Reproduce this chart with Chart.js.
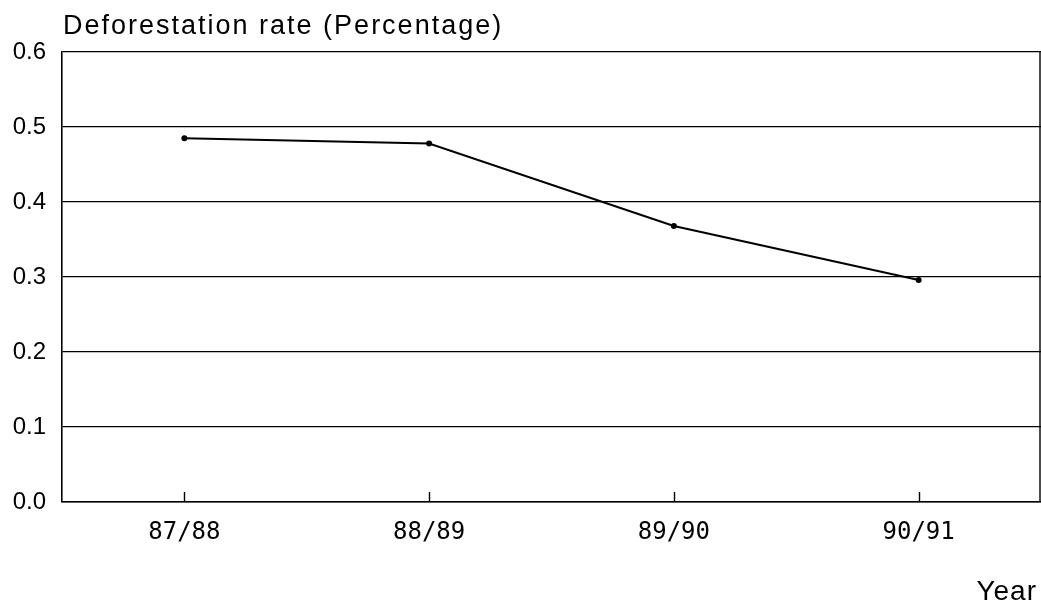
<!DOCTYPE html>
<html>
<head>
<meta charset="utf-8">
<script src="https://cdn.jsdelivr.net/npm/chart.js@4.4.0/dist/chart.umd.min.js"></script>
<style>
  html, body { margin: 0; padding: 0; background: #fff; overflow: hidden; }
  #wrap { width: 1041px; height: 605px; position: relative; }
  canvas { display: block; }
</style>
</head>
<body>
<div id="wrap"><canvas id="myChart" width="1041" height="605"></canvas></div>
<script>
// data
const years = ['87/88', '88/89', '89/90', '90/91'];
const deforestationRate = [0.485, 0.478, 0.368, 0.296];
const yTicks = [0.0, 0.1, 0.2, 0.3, 0.4, 0.5, 0.6];

const titleText = 'Deforestation rate (Percentage)';
const xTitleText = 'Year';

// title, x-axis name, inward tick marks and right border
const extras = {
    id: 'extras',
    afterDraw(chart) {
        const ctx = chart.ctx;
        const area = chart.chartArea;
        const x = chart.scales.x;
        ctx.save();
        ctx.strokeStyle = '#000';
        ctx.lineWidth = 1.4;
        ctx.beginPath();
        for (let i = 0; i < years.length; i++) {
            const px = Math.round(x.getPixelForTick(i)) + 0.5;
            ctx.moveTo(px, area.bottom);
            ctx.lineTo(px, area.bottom - 10);
        }
        ctx.moveTo(area.right - 1, area.top);
        ctx.lineTo(area.right - 1, area.bottom);
        ctx.stroke();

        ctx.fillStyle = '#000';
        ctx.textBaseline = 'alphabetic';
        ctx.font = '27px "Liberation Sans", Arial, sans-serif';
        ctx.letterSpacing = '2px';
        ctx.textAlign = 'left';
        ctx.fillText(titleText, 63, 34);
        ctx.font = '28px "Liberation Sans", Arial, sans-serif';
        ctx.letterSpacing = '1px';
        ctx.textAlign = 'right';
        ctx.fillText(xTitleText, 1037, 600);
        ctx.restore();
    }
};

var ctx = document.getElementById('myChart').getContext('2d');
var chart = new Chart(ctx, {
    type: 'line',
    data: {
        labels: years,
        datasets: [{
            label: 'Deforestation rate',
            data: deforestationRate,
            borderColor: '#000',
            backgroundColor: '#000',
            borderWidth: 2,
            pointRadius: 2,
            pointHoverRadius: 2,
            tension: 0
        }]
    },
    options: {
        responsive: false,
        animation: false,
        layout: { autoPadding: false, padding: { top: 52, right: 0, left: 0, bottom: 0 } },
        plugins: {
            legend: { display: false },
            title: { display: false },
            tooltip: { enabled: false }
        },
        scales: {
            x: {
                offset: true,
                grid: { display: false, drawTicks: false },
                border: { display: true, color: '#000', width: 1.6 },
                ticks: {
                    color: '#000',
                    padding: 16,
                    font: { family: '"DejaVu Sans Mono", monospace', size: 24 }
                },
                afterFit: s => { s.height = 103; s.paddingLeft = 0; s.paddingRight = 0; }
            },
            y: {
                min: 0,
                max: 0.6,
                afterBuildTicks: s => { s.ticks = yTicks.map(v => ({ value: v })); },
                grid: { color: '#000', lineWidth: 1.3, drawTicks: false },
                border: { display: true, color: '#000', width: 1.6 },
                ticks: {
                    color: '#000',
                    padding: 16,
                    callback: v => v.toFixed(1),
                    font: { family: '"Liberation Sans", Arial, sans-serif', size: 24 }
                },
                afterFit: s => { s.width = 62; }
            }
        }
    },
    plugins: [extras]
});
</script>
</body>
</html>
